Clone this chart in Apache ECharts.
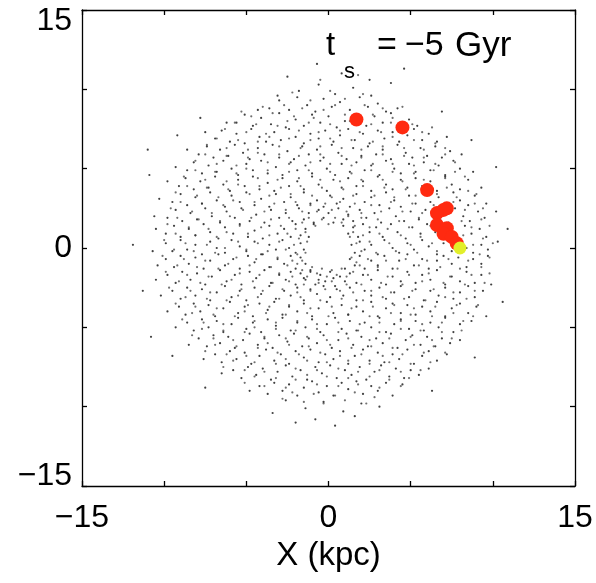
<!DOCTYPE html>
<html><head><meta charset="utf-8">
<script src="https://cdn.jsdelivr.net/npm/echarts@6/dist/echarts.min.js"></script>
<style>html,body{margin:0;padding:0;background:#fff}#c{width:596px;height:583px}</style>
</head><body><div id="c"></div>
<script>
// ---- data (kpc) ----
const xTicks = [-15, 0, 15];
const yTicks = [-15, 0, 15];
const titleMain = 't';
const titleSub = 's';
const titleEq = '=';
const titleVal = '\u22125';
const titleUnit = 'Gyr';
const xName = 'X (kpc)';

const diskNorth = [
[-0.7,11.6],[0.8,11.0],[2.5,10.6],[-2.5,10.8],[4.6,11.3],[-1.8,9.9],[-0.6,10.3],[0.4,9.7],[1.5,10.1],[2.6,9.6],[-3.1,9.6],[3.8,10.4],
[-3.6,8.8],[-3.0,9.3],[-2.4,8.7],[-1.9,9.5],[-1.3,9.0],[-0.8,8.6],[-0.3,9.4],[0.2,8.9],[0.7,9.2],[1.3,8.7],[1.9,9.5],[2.4,8.9],[3.0,9.1],[3.5,8.6],[-4.3,8.7],[4.2,8.8],
[-5.6,7.9],[-5.1,8.4],[-4.6,7.7],[-4.1,8.2],[-3.5,7.8],[-3.0,8.5],[-2.6,7.6],[-2.0,8.1],[-1.5,7.7],[-1.0,8.4],[-0.5,7.9],[0.0,8.3],[0.5,7.6],[1.0,8.0],[1.6,8.4],[2.3,7.7],[2.8,8.3],[3.3,7.9],[3.8,8.5],[4.3,7.8],[4.9,8.1],[5.4,7.7],[-6.2,7.9],
[-6.9,6.9],[-6.5,7.4],[-6.0,6.7],[-5.6,7.2],[-5.1,6.6],[-4.7,7.5],[-4.2,7.0],[-3.8,6.7],[-3.3,7.3],[-2.9,6.8],[-2.4,7.5],[-2.0,7.0],[-1.5,6.6],[-1.1,7.2],[-0.6,6.9],[-0.2,7.4],[0.3,6.7],[0.7,7.1],[1.2,7.5],[1.6,6.8],[2.1,7.2],[2.5,6.6],[3.0,7.4],[3.4,6.9],[3.9,7.3],[4.3,6.7],[4.8,7.1],[5.2,7.5],[5.7,6.8],[6.1,7.2],[6.6,6.7],[-7.5,7.3],[7.2,7.0],
[-7.9,5.9],[-7.4,6.4],[-7.0,5.7],[-6.6,6.2],[-6.1,5.8],[-5.7,6.5],[-5.2,6.0],[-4.8,5.6],[-4.3,6.3],[-3.9,5.9],[-3.4,6.5],[-3.0,5.7],[-2.5,6.1],[-2.1,5.6],[-1.6,6.4],[-1.2,5.9],[-0.7,6.2],[-0.3,5.7],[0.2,6.5],[0.6,6.0],[1.1,5.6],[1.5,6.3],[2.0,5.8],[2.4,6.4],[2.9,5.9],[3.3,6.2],[3.8,5.6],[4.2,6.5],[4.7,6.0],[5.1,5.7],[5.6,6.3],[6.0,5.8],[6.5,6.4],[6.9,5.7],[7.4,6.1],[-8.6,6.2],[8.1,5.9],
[-8.6,4.9],[-8.2,5.4],[-7.7,4.7],[-7.3,5.2],[-6.8,4.8],[-6.4,5.5],[-5.9,5.0],[-5.5,4.6],[-5.0,5.3],[-4.6,4.9],[-4.1,5.5],[-3.7,4.7],[-3.2,5.1],[-2.8,4.6],[-2.3,5.4],[-1.9,4.9],[-1.4,5.2],[-1.0,4.7],[-0.5,5.5],[-0.1,5.0],[0.4,4.6],[0.8,5.3],[1.3,4.8],[1.7,5.4],[2.2,4.9],[2.6,5.2],[3.1,4.6],[3.5,5.5],[4.0,5.0],[4.4,4.7],[4.9,5.3],[5.3,4.8],[5.8,5.4],[6.2,4.9],[6.7,5.2],[7.1,4.6],[7.6,5.5],[8.0,5.0],[-9.3,5.1],[8.8,4.8],
[-9.1,3.9],[-8.7,4.4],[-8.2,3.7],[-7.8,4.2],[-7.3,3.8],[-6.9,4.5],[-6.4,4.0],[-6.0,3.6],[-5.5,4.3],[-5.1,3.9],[-4.6,4.5],[-4.2,3.7],[-3.7,4.1],[-3.3,3.6],[-2.8,4.4],[-2.4,3.9],[-1.9,4.2],[-1.5,3.7],[-1.0,4.5],[-0.6,4.0],[-0.1,3.6],[0.3,4.3],[0.8,3.8],[1.2,4.4],[1.7,3.9],[2.1,4.2],[2.6,3.6],[3.0,4.5],[3.5,4.0],[3.9,3.7],[4.4,4.3],[4.8,3.8],[5.3,4.4],[5.7,3.9],[6.2,4.2],[6.6,3.6],[7.1,4.5],[7.5,4.0],[8.0,3.7],[8.5,4.3],[-9.8,4.2],[9.3,3.8]
];
const diskMiddle = [
[-9.5,2.9],[-9.0,3.4],[-8.6,2.7],[-8.1,3.2],[-7.7,2.8],[-7.2,3.5],[-6.8,3.0],[-6.3,2.6],[-5.9,3.3],[-5.4,2.9],[-5.0,3.5],[-4.5,2.7],[-4.1,3.1],[-3.6,2.6],[-3.2,3.4],[-2.7,2.9],[-2.3,3.2],[-1.9,2.7],[-1.5,3.5],[-1.1,2.8],[-0.7,3.0],[-0.3,2.6],[0.1,3.3],[0.5,2.8],[0.9,3.1],[1.3,2.6],[1.7,3.4],[2.2,2.9],[2.6,3.2],[3.1,2.7],[3.5,3.5],[4.0,3.0],[4.4,2.6],[4.9,3.3],[5.3,2.8],[5.8,3.4],[6.2,2.9],[6.7,3.2],[7.1,2.6],[7.6,3.5],[8.0,3.0],[8.5,2.7],[8.9,3.3],[-10.3,3.1],[9.6,2.8],
[-9.8,1.9],[-9.3,2.4],[-8.9,1.7],[-8.4,2.2],[-8.0,1.8],[-7.5,2.5],[-7.1,2.0],[-6.6,1.6],[-6.2,2.3],[-5.7,1.9],[-5.3,2.5],[-4.8,1.7],[-4.4,2.1],[-3.9,1.6],[-3.5,2.4],[-3.0,1.9],[-2.6,2.2],[-2.2,1.7],[-1.8,2.5],[-1.5,1.8],[-1.2,2.2],[-0.9,1.6],[-0.6,2.4],[-0.3,1.9],[0.0,2.2],[0.3,1.6],[0.6,2.5],[0.9,1.8],[1.2,2.1],[1.5,1.7],[1.9,2.4],[2.3,1.9],[2.8,2.2],[3.2,1.6],[3.7,2.5],[4.1,2.0],[4.6,1.7],[5.0,2.3],[5.5,1.8],[5.9,2.4],[6.4,1.9],[6.8,2.2],[7.3,1.6],[7.7,2.5],[8.2,2.0],[8.6,1.7],[9.1,2.3],[9.5,1.9],[-10.6,2.0],[10.2,2.3],
[-9.9,0.9],[-9.4,1.4],[-9.0,0.7],[-8.5,1.2],[-8.1,0.8],[-7.6,1.5],[-7.2,1.0],[-6.7,0.6],[-6.3,1.3],[-5.8,0.9],[-5.4,1.5],[-4.9,0.7],[-4.5,1.1],[-4.0,0.6],[-3.6,1.4],[-3.1,0.9],[-2.7,1.2],[-2.3,0.7],[-2.0,1.5],[-1.7,0.8],[-1.4,1.2],[-1.2,0.7],[-0.9,1.5],[0.9,1.4],[1.2,0.9],[1.5,1.3],[1.8,0.7],[2.1,1.5],[2.5,1.0],[2.9,1.3],[3.3,0.7],[3.8,1.5],[4.2,1.0],[4.7,0.6],[5.1,1.3],[5.6,0.9],[6.0,1.5],[6.5,1.0],[6.9,0.7],[7.4,1.2],[7.8,0.8],[8.3,1.4],[8.7,0.9],[9.2,1.2],[9.6,0.7],[-10.5,1.2],[-11.9,0.2],
[-9.9,0.3],[-9.5,-0.2],[-9.0,0.5],[-8.6,-0.1],[-8.1,0.2],[-7.7,-0.4],[-7.2,0.4],[-6.8,0.0],[-6.3,-0.3],[-5.9,0.5],[-5.4,0.1],[-5.0,-0.2],[-4.5,0.4],[-4.1,-0.4],[-3.6,0.2],[-3.2,-0.1],[-2.8,0.5],[-2.4,0.0],[-2.0,-0.3],[-1.7,0.3],[-1.5,-0.1],[1.4,0.2],[1.6,-0.3],[1.9,0.4],[2.2,-0.1],[2.6,0.2],[3.0,-0.4],[3.4,0.5],[3.9,0.0],[4.3,-0.3],[4.8,0.3],[5.2,-0.1],[5.7,0.5],[6.1,0.1],[6.6,-0.4],[7.0,0.3],[7.5,-0.2],[7.9,0.4],[8.4,0.0],[8.8,-0.3],[9.3,0.2],[9.7,-0.1],[-10.7,-0.2],[10.3,0.4],
[-9.9,-0.7],[-9.4,-1.2],[-9.0,-0.5],[-8.5,-1.0],[-8.1,-0.6],[-7.6,-1.3],[-7.2,-0.8],[-6.7,-0.4],[-6.3,-1.1],[-5.8,-0.7],[-5.4,-1.3],[-4.9,-0.5],[-4.5,-0.9],[-4.0,-0.4],[-3.6,-1.2],[-3.1,-0.7],[-2.7,-1.0],[-2.3,-0.5],[-2.0,-1.3],[-1.7,-0.6],[-1.4,-1.0],[-1.1,-1.4],[1.0,-1.3],[1.3,-0.7],[1.6,-1.1],[1.9,-0.5],[2.2,-1.3],[2.6,-0.8],[3.0,-1.1],[3.4,-0.5],[3.9,-1.3],[4.3,-0.8],[4.8,-0.4],[5.2,-1.1],[5.7,-0.7],[6.1,-1.3],[6.6,-0.8],[7.0,-0.5],[7.5,-1.0],[7.9,-0.6],[8.4,-1.2],[8.8,-0.7],[9.3,-1.0],[9.7,-0.5],[-10.4,-1.1],
[-9.8,-1.7],[-9.3,-2.2],[-8.9,-1.5],[-8.4,-2.0],[-8.0,-1.6],[-7.5,-2.3],[-7.1,-1.8],[-6.6,-1.4],[-6.2,-2.1],[-5.7,-1.7],[-5.3,-2.3],[-4.8,-1.5],[-4.4,-1.9],[-3.9,-1.4],[-3.5,-2.2],[-3.0,-1.7],[-2.6,-2.0],[-2.3,-1.5],[-2.0,-2.3],[-1.7,-1.6],[-1.4,-2.0],[-1.1,-1.5],[-0.8,-2.3],[-0.5,-1.7],[-0.2,-2.1],[0.1,-1.5],[0.4,-2.4],[0.7,-1.8],[1.0,-2.1],[1.3,-1.6],[1.7,-2.2],[2.1,-1.7],[2.6,-2.0],[3.0,-1.4],[3.5,-2.3],[3.9,-1.8],[4.4,-2.1],[4.8,-1.5],[5.3,-2.2],[5.7,-1.7],[6.2,-2.0],[6.6,-1.4],[7.1,-2.3],[7.5,-1.8],[8.0,-2.1],[8.4,-1.5],[8.9,-2.2],[9.3,-1.7],[-10.5,-2.0],[9.9,-2.3],[-1.5,-1.9],[-0.6,-2.0],[0.3,-1.9]
];
const diskSouth = [
[-9.5,-2.7],[-9.0,-3.2],[-8.6,-2.5],[-8.1,-3.0],[-7.7,-2.6],[-7.2,-3.3],[-6.8,-2.8],[-6.3,-2.4],[-5.9,-3.1],[-5.4,-2.7],[-5.0,-3.3],[-4.5,-2.5],[-4.1,-2.9],[-3.6,-2.4],[-3.2,-3.2],[-2.7,-2.7],[-2.3,-3.0],[-1.9,-2.5],[-1.5,-3.3],[-1.1,-2.6],[-0.7,-2.9],[-0.3,-2.4],[0.1,-3.1],[0.5,-2.6],[0.9,-3.0],[1.3,-2.5],[1.7,-3.3],[2.2,-2.7],[2.6,-3.0],[3.1,-2.5],[3.5,-3.2],[4.0,-2.8],[4.4,-2.4],[4.9,-3.1],[5.3,-2.6],[5.8,-3.3],[6.2,-2.7],[6.7,-3.0],[7.1,-2.5],[7.6,-3.2],[8.0,-2.8],[8.5,-2.4],[8.9,-3.1],[9.4,-2.7],[-10.2,-3.0],
[-9.1,-3.7],[-8.7,-4.2],[-8.2,-3.5],[-7.8,-4.0],[-7.3,-3.6],[-6.9,-4.3],[-6.4,-3.8],[-6.0,-3.4],[-5.5,-4.1],[-5.1,-3.7],[-4.6,-4.3],[-4.2,-3.5],[-3.7,-3.9],[-3.3,-3.4],[-2.8,-4.2],[-2.4,-3.7],[-1.9,-4.0],[-1.5,-3.5],[-1.0,-4.3],[-0.6,-3.8],[-0.1,-3.4],[0.3,-4.1],[0.8,-3.6],[1.2,-4.2],[1.7,-3.7],[2.1,-4.0],[2.6,-3.4],[3.0,-4.3],[3.5,-3.8],[3.9,-3.5],[4.4,-4.1],[4.8,-3.6],[5.3,-4.2],[5.7,-3.7],[6.2,-4.0],[6.6,-3.4],[7.1,-4.3],[7.5,-3.8],[8.0,-3.5],[8.5,-4.1],[9.0,-3.7],[-9.8,-4.0],[9.6,-4.3],
[-8.6,-4.7],[-8.2,-5.2],[-7.7,-4.5],[-7.3,-5.0],[-6.8,-4.6],[-6.4,-5.3],[-5.9,-4.8],[-5.5,-4.4],[-5.0,-5.1],[-4.6,-4.7],[-4.1,-5.3],[-3.7,-4.5],[-3.2,-4.9],[-2.8,-4.4],[-2.3,-5.2],[-1.9,-4.7],[-1.4,-5.0],[-1.0,-4.5],[-0.5,-5.3],[-0.1,-4.8],[0.4,-4.4],[0.8,-5.1],[1.3,-4.6],[1.7,-5.2],[2.2,-4.7],[2.6,-5.0],[3.1,-4.4],[3.5,-5.3],[4.0,-4.8],[4.4,-4.5],[4.9,-5.1],[5.3,-4.6],[5.8,-5.2],[6.2,-4.7],[6.7,-5.0],[7.1,-4.4],[7.6,-5.3],[8.0,-4.8],[-9.3,-5.0],[8.7,-4.6],
[-7.9,-5.7],[-7.4,-6.2],[-7.0,-5.5],[-6.6,-6.0],[-6.1,-5.6],[-5.7,-6.3],[-5.2,-5.8],[-4.8,-5.4],[-4.3,-6.1],[-3.9,-5.7],[-3.4,-6.3],[-3.0,-5.5],[-2.5,-5.9],[-2.1,-5.4],[-1.6,-6.2],[-1.2,-5.7],[-0.7,-6.0],[-0.3,-5.5],[0.2,-6.3],[0.6,-5.8],[1.1,-5.4],[1.5,-6.1],[2.0,-5.6],[2.4,-6.2],[2.9,-5.7],[3.3,-6.0],[3.8,-5.4],[4.2,-6.3],[4.7,-5.8],[5.1,-5.5],[5.6,-6.1],[6.0,-5.6],[6.5,-6.2],[6.9,-5.7],[7.4,-6.0],[-8.5,-6.1],[8.0,-5.8],
[-6.9,-6.7],[-6.5,-7.2],[-6.0,-6.5],[-5.6,-7.0],[-5.1,-6.6],[-4.7,-7.3],[-4.2,-6.8],[-3.8,-6.4],[-3.3,-7.1],[-2.9,-6.7],[-2.4,-7.3],[-2.0,-6.5],[-1.5,-6.9],[-1.1,-6.4],[-0.6,-7.2],[-0.2,-6.7],[0.3,-7.0],[0.7,-6.5],[1.2,-7.3],[1.6,-6.8],[2.1,-6.4],[2.5,-7.1],[3.0,-6.6],[3.4,-7.2],[3.9,-6.7],[4.3,-7.0],[4.8,-6.4],[5.2,-7.3],[5.7,-6.8],[6.1,-6.5],[6.6,-7.1],[-7.6,-7.0],[7.2,-6.7],
[-5.8,-7.7],[-5.3,-8.2],[-4.9,-7.5],[-4.4,-8.0],[-4.0,-7.6],[-3.5,-8.3],[-3.1,-7.8],[-2.6,-7.4],[-2.2,-8.1],[-1.7,-7.7],[-1.3,-8.3],[-0.8,-7.5],[-0.4,-7.9],[0.1,-7.4],[0.5,-8.2],[1.0,-7.7],[1.4,-8.0],[1.9,-7.5],[2.3,-8.3],[2.8,-7.8],[3.2,-7.4],[3.7,-8.1],[4.1,-7.6],[4.6,-8.2],[5.0,-7.7],[5.5,-8.0],[-6.5,-7.9],[6.1,-7.6],
[-4.2,-8.7],[-3.7,-9.2],[-3.3,-8.5],[-2.8,-9.0],[-2.4,-8.6],[-1.9,-9.3],[-1.5,-8.8],[-1.0,-8.4],[-0.6,-9.1],[-0.1,-8.7],[0.3,-9.3],[0.8,-8.5],[1.2,-8.9],[1.7,-8.4],[2.1,-9.2],[2.6,-8.7],[3.0,-9.0],[3.5,-8.5],[3.9,-9.3],[-4.8,-9.0],[4.5,-8.6],
[-2.6,-9.6],[-1.4,-10.1],[-0.3,-9.7],[0.9,-10.3],[2.0,-9.8],[3.1,-10.0],[-3.4,-10.4],[-0.8,-10.8],[1.6,-10.6],[-2.0,-11.0],[0.4,-11.2]
];
const diskFringe = [
[-10.9,4.6],[-11.3,-2.7],[-10.8,-5.6],[10.6,-3.4],[10.9,1.2],[10.2,5.1],[-9.2,7.1],[8.7,6.8],[-7.8,8.2],[6.9,8.6],[-9.5,-6.8],[8.9,-6.9],[-7.5,-8.8],[6.3,-9.0],[-11.0,6.2]
];
const diskExtraNorth = [
[-2.2,9.8],[-1.1,9.3],[0.1,9.9],[1.0,9.4],[2.1,9.7],[-0.5,10.6],[1.8,10.9],
[-4.7,8.3],[-4.0,8.9],[-3.4,8.5],[-2.7,9.0],[-2.1,8.3],[-1.6,8.8],[-0.9,8.2],[-0.3,8.7],[0.4,9.0],[1.0,8.4],[2.2,9.0],[2.7,8.4],[3.3,8.8],[3.9,8.2],[4.5,8.9],[-5.3,8.6],
[-6.3,7.5],[-5.7,7.9],[-5.0,7.3],[-4.4,7.8],[-3.8,7.2],[-3.1,7.7],[-2.5,8.0],[-1.8,7.4],[-1.2,7.9],[-0.6,7.3],[0.1,7.8],[0.7,7.4],[1.3,8.0],[1.9,7.3],[2.6,7.8],[3.2,7.3],[3.8,7.9],[4.5,7.4],[5.1,7.8],[5.7,7.3],[6.3,7.6],
[-7.4,6.5],[-6.8,6.9],[-6.2,6.3],[-5.5,6.8],[-4.9,6.2],[-4.3,6.7],[-3.6,7.0],[-3.0,6.4],[-2.4,6.9],[-1.7,6.3],[-1.1,6.8],[-0.5,6.4],[0.1,6.9],[0.8,6.3],[1.4,6.8],[2.0,6.2],[2.7,6.7],[3.3,6.4],[3.9,7.0],[4.6,6.3],[5.2,6.8],[5.8,6.2],[6.5,6.6],[7.1,6.3],
[-8.1,5.5],[-7.5,5.9],[-6.8,5.3],[-6.2,5.8],[-5.6,5.2],[-4.9,5.7],[-4.3,6.0],[-3.7,5.4],[-3.0,5.9],[-2.4,5.3],[-1.8,5.8],[-1.1,5.4],[-0.5,5.9],[0.1,5.3],[0.8,5.8],[1.4,5.2],[2.0,5.7],[2.7,5.3],[3.3,5.9],[3.9,5.3],[4.6,5.8],[5.2,5.2],[5.8,5.7],[6.5,5.3],[7.1,5.9],[7.7,5.4],
[-8.8,4.5],[-8.1,4.9],[-7.5,4.3],[-6.9,4.8],[-6.2,4.2],[-5.6,4.7],[-5.0,5.0],[-4.3,4.4],[-3.7,4.9],[-3.1,4.3],[-2.4,4.8],[-1.8,4.4],[-1.2,4.9],[-0.5,4.3],[0.1,4.8],[0.7,4.2],[1.4,4.7],[2.0,4.3],[2.6,4.9],[3.3,4.3],[3.9,4.8],[4.5,4.2],[5.2,4.7],[5.8,4.3],[6.4,4.9],[7.1,4.4],[7.7,4.8],[8.3,4.5],
[-9.3,3.5],[-8.6,3.9],[-8.0,3.3],[-7.4,3.8],[-6.7,3.2],[-6.1,3.7],[-5.5,4.0],[-4.8,3.4],[-4.2,3.9],[-3.6,3.3],[-2.9,3.8],[-2.3,3.4],[-1.7,3.9],[-1.0,3.3],[-0.4,3.8],[0.2,3.2],[0.9,3.7],[1.5,3.3],[2.1,3.9],[2.8,3.3],[3.4,3.8],[4.0,3.2],[4.7,3.7],[5.3,3.3],[5.9,3.9],[6.6,3.4],[7.2,3.8],[7.8,3.2],[8.5,3.6],[9.0,3.4],
[-9.6,2.5],[-9.0,2.9],[-8.3,2.3],[-7.7,2.8],[-7.1,2.2],[-6.4,2.7],[-5.8,3.0],[-5.2,2.4],[-4.5,2.9],[-3.9,2.3],[-3.3,2.8],[-2.6,2.4],[-2.0,2.9],[-1.6,2.3],[-1.1,2.7],[-0.7,2.3],[-0.2,2.8],[0.2,2.4],[0.7,2.9],[1.1,2.3],[1.6,2.8],[2.0,2.2],[2.6,2.7],[3.2,2.3],[3.8,2.9],[4.5,2.3],[5.1,2.8],[5.7,2.2],[6.4,2.7],[7.0,2.3],[7.6,2.9],[8.3,2.4],[8.9,2.8],[9.4,2.5],
[-9.8,1.5],[-9.2,1.9],[-8.5,1.3],[-7.9,1.8],[-7.3,1.2],[-6.6,1.7],[-6.0,2.0],[-5.4,1.4],[-4.7,1.9],[-4.1,1.3],[-3.5,1.8],[-2.9,1.4],[-2.4,1.9],[-2.0,1.2],[-1.6,1.6],[-1.2,1.9],[-0.8,1.4],[-0.4,1.8],[0.0,1.5],[0.4,1.9],[0.8,1.6],[1.2,2.0],[1.6,1.4],[2.0,1.9],[2.5,1.3],[3.0,1.8],[3.6,1.2],[4.3,1.7],[4.9,1.3],[5.5,1.9],[6.2,1.4],[6.8,1.8],[7.4,1.2],[8.1,1.7],[8.7,1.3],[9.3,1.8],[9.8,1.4],
[-10.0,0.5],[-9.3,0.9],[-8.7,0.3],[-8.1,0.8],[-7.4,0.2],[-6.8,0.7],[-6.2,1.0],[-5.5,0.4],[-4.9,0.9],[-4.3,0.3],[-3.6,0.8],[-3.0,0.4],[-2.5,0.9],[-2.1,0.2],[-1.8,0.6],[-1.4,1.0],[-1.3,0.4],[1.3,0.7],[1.5,1.0],[1.7,0.3],[2.1,0.8],[2.5,0.4],[3.1,0.9],[3.7,0.3],[4.4,0.8],[5.0,0.2],[5.6,0.7],[6.3,0.3],[6.9,0.9],[7.5,0.4],[8.2,0.8],[8.8,0.2],[9.4,0.6],[10.0,0.3]
];
const diskExtraSouth = [
[-10.1,-0.5],[-9.4,-0.1],[-8.8,-0.7],[-8.2,-0.2],[-7.5,-0.8],[-6.9,-0.3],[-6.3,0.0],[-5.6,-0.6],[-5.0,-0.1],[-4.4,-0.7],[-3.7,-0.2],[-3.1,-0.6],[-2.6,-0.1],[-2.2,-0.8],[-1.9,-0.4],[-1.6,-0.8],[-1.4,-0.3],[1.4,-0.6],[1.7,-0.9],[2.0,-0.2],[2.4,-0.7],[2.9,-0.3],[3.5,-0.8],[4.1,-0.2],[4.7,-0.7],[5.4,-0.3],[6.0,-0.8],[6.6,-0.2],[7.3,-0.7],[7.9,-0.3],[8.5,-0.8],[9.2,-0.4],[9.8,-0.6],
[-9.9,-1.5],[-9.2,-1.1],[-8.6,-1.7],[-8.0,-1.2],[-7.3,-1.8],[-6.7,-1.3],[-6.1,-1.0],[-5.4,-1.6],[-4.8,-1.1],[-4.2,-1.7],[-3.5,-1.2],[-3.0,-1.6],[-2.5,-1.1],[-2.2,-1.8],[-1.9,-1.0],[-1.6,-1.4],[-1.3,-1.8],[-1.0,-1.2],[-0.7,-1.6],[-0.4,-1.3],[-0.1,-1.8],[0.2,-1.4],[0.5,-1.7],[0.8,-1.3],[1.1,-1.8],[1.5,-1.5],[1.9,-1.1],[2.4,-1.7],[3.0,-1.2],[3.6,-1.8],[4.2,-1.3],[4.9,-1.7],[5.5,-1.1],[6.1,-1.6],[6.8,-1.2],[7.4,-1.8],[8.0,-1.3],[8.7,-1.7],[9.3,-1.2],[9.8,-1.6],
[-9.7,-2.5],[-9.1,-2.1],[-8.4,-2.7],[-7.8,-2.2],[-7.2,-2.8],[-6.5,-2.3],[-5.9,-2.0],[-5.3,-2.6],[-4.6,-2.1],[-4.0,-2.7],[-3.4,-2.2],[-2.8,-2.6],[-2.4,-2.1],[-1.9,-2.8],[-1.5,-2.3],[-1.1,-2.7],[-0.6,-2.2],[-0.2,-2.6],[0.2,-2.1],[0.7,-2.7],[1.1,-2.3],[1.5,-2.8],[2.0,-2.3],[2.6,-2.7],[3.2,-2.2],[3.8,-2.8],[4.5,-2.3],[5.1,-2.7],[5.7,-2.1],[6.4,-2.6],[7.0,-2.2],[7.6,-2.8],[8.3,-2.3],[8.9,-2.7],[9.5,-2.2],
[-9.3,-3.5],[-8.7,-3.1],[-8.1,-3.7],[-7.4,-3.2],[-6.8,-3.8],[-6.2,-3.3],[-5.5,-3.0],[-4.9,-3.6],[-4.3,-3.1],[-3.6,-3.7],[-3.0,-3.2],[-2.4,-3.6],[-1.7,-3.1],[-1.1,-3.8],[-0.5,-3.3],[0.2,-3.7],[0.8,-3.2],[1.4,-3.8],[2.1,-3.3],[2.7,-3.7],[3.3,-3.1],[4.0,-3.6],[4.6,-3.2],[5.2,-3.8],[5.9,-3.3],[6.5,-3.7],[7.1,-3.1],[7.8,-3.6],[8.4,-3.2],[9.1,-3.6],
[-8.9,-4.5],[-8.3,-4.1],[-7.6,-4.7],[-7.0,-4.2],[-6.4,-4.8],[-5.7,-4.3],[-5.1,-4.0],[-4.5,-4.6],[-3.8,-4.1],[-3.2,-4.7],[-2.6,-4.2],[-1.9,-4.6],[-1.3,-4.1],[-0.7,-4.8],[0.0,-4.3],[0.6,-4.7],[1.2,-4.2],[1.9,-4.8],[2.5,-4.3],[3.1,-4.7],[3.8,-4.1],[4.4,-4.6],[5.0,-4.2],[5.7,-4.8],[6.3,-4.3],[6.9,-4.7],[7.6,-4.1],[8.2,-4.6],[8.8,-4.3],
[-8.3,-5.5],[-7.7,-5.1],[-7.0,-5.7],[-6.4,-5.2],[-5.8,-5.8],[-5.1,-5.3],[-4.5,-5.0],[-3.9,-5.6],[-3.2,-5.1],[-2.6,-5.7],[-2.0,-5.2],[-1.3,-5.6],[-0.7,-5.1],[-0.1,-5.8],[0.6,-5.3],[1.2,-5.7],[1.8,-5.2],[2.5,-5.8],[3.1,-5.3],[3.7,-5.7],[4.4,-5.1],[5.0,-5.6],[5.6,-5.2],[6.3,-5.8],[6.9,-5.3],[7.5,-5.7],[8.1,-5.2],
[-7.5,-6.5],[-6.9,-6.1],[-6.2,-6.7],[-5.6,-6.2],[-5.0,-6.8],[-4.3,-6.3],[-3.7,-6.0],[-3.1,-6.6],[-2.4,-6.1],[-1.8,-6.7],[-1.2,-6.2],[-0.5,-6.6],[0.1,-6.1],[0.7,-6.8],[1.4,-6.3],[2.0,-6.7],[2.6,-6.2],[3.3,-6.8],[3.9,-6.3],[4.5,-6.7],[5.2,-6.1],[5.8,-6.6],[6.4,-6.2],[7.1,-6.6],
[-6.4,-7.5],[-5.8,-7.1],[-5.1,-7.7],[-4.5,-7.2],[-3.9,-7.8],[-3.2,-7.3],[-2.6,-7.0],[-2.0,-7.6],[-1.3,-7.1],[-0.7,-7.7],[-0.1,-7.2],[0.6,-7.6],[1.2,-7.1],[1.8,-7.8],[2.5,-7.3],[3.1,-7.7],[3.7,-7.2],[4.4,-7.8],[5.0,-7.3],[5.6,-7.7],[6.2,-7.2],
[-5.1,-8.5],[-4.5,-8.1],[-3.9,-8.7],[-3.2,-8.2],[-2.6,-8.8],[-2.0,-8.3],[-1.3,-8.0],[-0.7,-8.6],[-0.1,-8.1],[0.6,-8.7],[1.2,-8.2],[1.8,-8.6],[2.5,-8.1],[3.1,-8.8],[3.7,-8.3],[4.4,-8.7],[4.9,-8.2],
[-2.8,-9.5],[-2.2,-9.1],[-1.5,-9.7],[-0.9,-9.2],[-0.3,-9.8],[0.4,-9.3],[1.0,-9.6],[1.6,-9.1],[2.3,-9.8],[2.8,-9.4]
];
const redX = [1.7, 4.5, 6.0, 7.2, 7.0, 6.6, 6.6, 7.2, 7.0, 7.5, 7.8];
const redY = [8.1, 7.6, 3.65, 2.5, 2.4, 2.2, 1.45, 1.25, 0.9, 0.7, 0.3];
const yellowX = [8.0];
const yellowY = [0.0];

// ---- chart ----
const FONT = '"Liberation Sans", Arial, Helvetica, sans-serif';
const disk = diskNorth.concat(diskMiddle, diskSouth, diskFringe);
const diskExtra = diskExtraNorth.concat(diskExtraSouth);
const red = redX.map((x, i) => [x, redY[i]]);
const yellow = yellowX.map((x, i) => [x, yellowY[i]]);
const minus = v => (v < 0 ? '\u2212' + Math.abs(v) : String(v));
const ts = (size) => ({fontFamily: FONT, fontSize: size, fontWeight: 'normal', color: '#000'});

const chart = echarts.init(document.getElementById('c'), null, {renderer: 'canvas'});
const axisCommon = {
  type: 'value', min: -15, max: 15, interval: 5,
  axisLine: {show: true, onZero: false, lineStyle: {color: '#000', width: 1.3}},
  axisTick: {show: true, inside: true, length: 5, lineStyle: {color: '#000', width: 1.3}},
  splitLine: {show: false}
};
chart.setOption({
  animation: false,
  backgroundColor: '#fff',
  title: [
    {text: titleMain, left: 326, top: 29, padding: 0, textStyle: ts(33)},
    {text: titleSub, left: 344, top: 61, padding: 0, textStyle: ts(22)},
    {text: titleEq, left: 377, top: 29, padding: 0, textStyle: ts(34)},
    {text: titleVal, left: 405, top: 29, padding: 0, textStyle: ts(34)},
    {text: titleUnit, left: 455, top: 29, padding: 0, textStyle: ts(35)}
  ],
  grid: {left: 82, right: 21, top: 10, bottom: 97, containLabel: false},
  xAxis: [
    Object.assign({}, axisCommon, {
      position: 'bottom', name: xName, nameLocation: 'middle', nameGap: 53,
      nameTextStyle: {fontFamily: FONT, fontSize: 33, color: '#000'},
      axisLabel: {show: true, margin: 16, fontFamily: FONT, fontSize: 32, color: '#000',
        formatter: v => (xTicks.indexOf(v) >= 0 ? minus(v) : '')}
    }),
    Object.assign({}, axisCommon, {position: 'top', axisLabel: {show: false}})
  ],
  yAxis: [
    Object.assign({}, axisCommon, {
      position: 'left',
      axisLabel: {show: true, margin: 10, fontFamily: FONT, fontSize: 32, color: '#000',
        formatter: v => {
          if (yTicks.indexOf(v) < 0) return '';
          if (v === 15) return '{top|' + minus(v) + '}';
          if (v === -15) return '{bot|' + minus(v) + '}';
          return minus(v);
        },
        rich: {
          top: {fontFamily: FONT, fontSize: 32, color: '#000', padding: [22, 0, 0, 0]},
          bot: {fontFamily: FONT, fontSize: 32, color: '#000', padding: [0, 0, 20, 0]}
        }}
    }),
    Object.assign({}, axisCommon, {position: 'right', axisLabel: {show: false}})
  ],
  series: [
    {type: 'scatter', data: disk, symbol: 'circle', symbolSize: 2.2, itemStyle: {color: '#111', opacity: 0.8}, silent: true, z: 2},
    {type: 'scatter', data: diskExtra, symbol: 'circle', symbolSize: 2.2, itemStyle: {color: '#333', opacity: 0.7}, silent: true, z: 2},
    {type: 'scatter', data: red, symbol: 'circle', symbolSize: 14, itemStyle: {color: '#ff2a10', opacity: 1}, silent: true, z: 3},
    {type: 'scatter', data: yellow, symbol: 'circle', symbolSize: 13, itemStyle: {color: '#e2ef2a', opacity: 1}, silent: true, z: 4}
  ]
});
</script>
</body></html>
